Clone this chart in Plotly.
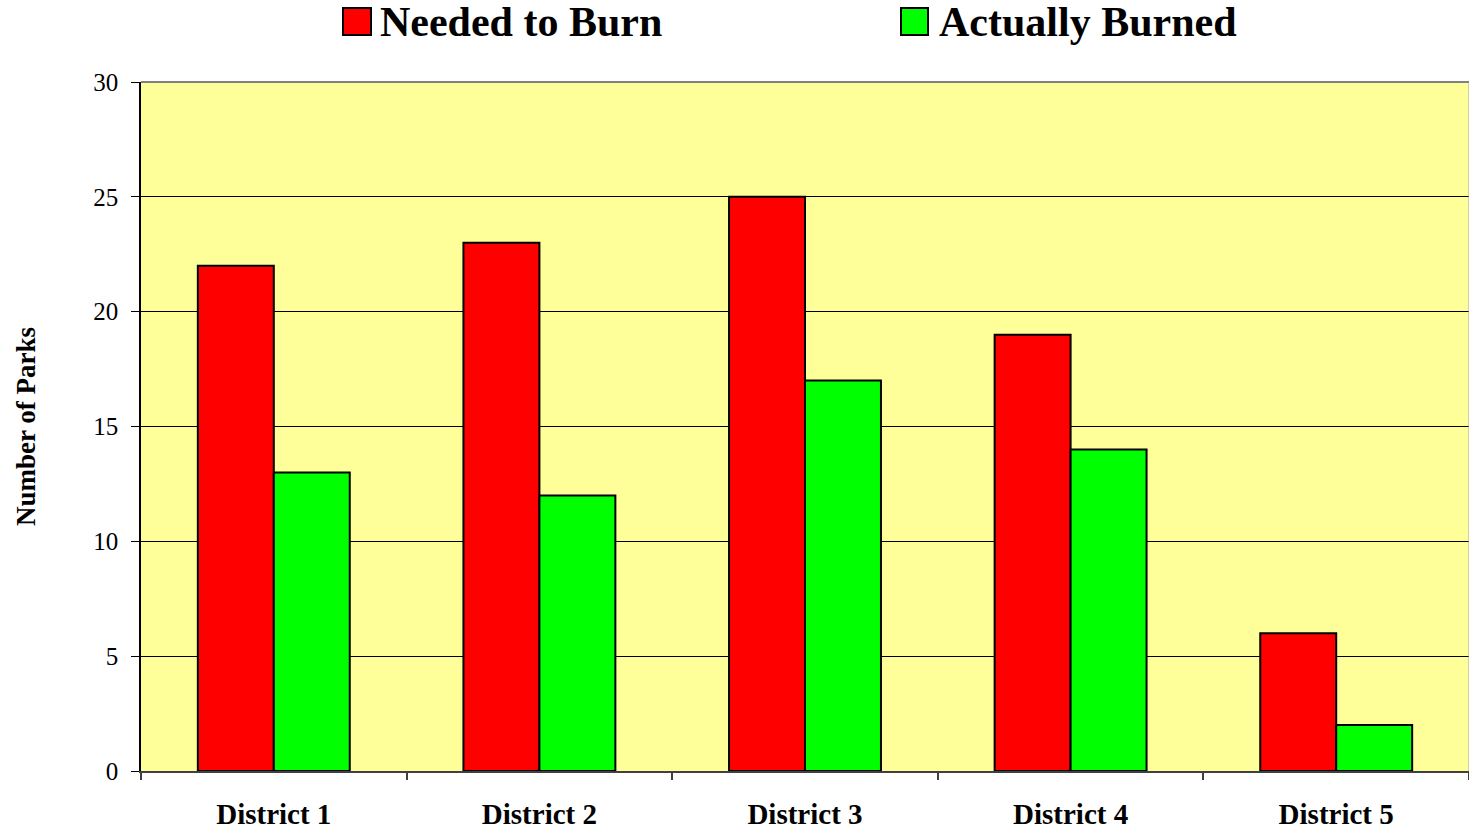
import plotly.graph_objects as go

districts = ["District 1", "District 2", "District 3", "District 4", "District 5"]
needed = [22, 23, 25, 19, 6]
burned = [13, 12, 17, 14, 2]
y_ticks = [0, 5, 10, 15, 20, 25, 30]

RED = "#FF0000"
GREEN = "#00FF00"
FONT = "Liberation Serif, Times New Roman, serif"

W, H = 1469, 833
L, R, T, B = 141, 0, 82, 62
PW, PH = W - L - R, H - T - B

fig = go.Figure()
fig.add_trace(go.Bar(x=districts, y=needed, name="Needed to Burn", marker=dict(color=RED, line=dict(color="black", width=2)), showlegend=False))
fig.add_trace(go.Bar(x=districts, y=burned, name="Actually Burned", marker=dict(color=GREEN, line=dict(color="black", width=2)), showlegend=False))
# legend text entries (swatches drawn as larger squares below)
for nm in ["Needed to Burn", "Actually Burned"]:
    fig.add_trace(go.Scatter(x=[None], y=[None], mode="markers", name=nm,
                             marker=dict(symbol="square", size=1, color="rgba(0,0,0,0)", line=dict(width=0))))

def px_x(p):
    return (p - L) / PW

def px_y(p):
    return (H - B - p) / PH

shapes = []
for (x0, x1), col in [((343, 371), RED), ((901, 928), GREEN)]:
    shapes.append(dict(type="rect", xref="paper", yref="paper",
                       x0=px_x(x0), x1=px_x(x1), y0=px_y(35), y1=px_y(8),
                       fillcolor=col, line=dict(color="black", width=2), layer="above"))
# gray top / right border of plot area
shapes.append(dict(type="line", xref="paper", yref="paper", x0=0, x1=1, y0=1, y1=1,
                   line=dict(color="#808080", width=2), layer="above"))
shapes.append(dict(type="line", xref="paper", yref="paper", x0=1, x1=1, y0=0, y1=1,
                   line=dict(color="#A0A0A0", width=1), layer="above"))

fig.update_layout(
    width=W, height=H,
    margin=dict(l=L, r=R, t=T, b=B, autoexpand=False),
    paper_bgcolor="white", plot_bgcolor="#FFFF99",
    barmode="group", bargap=0.428, bargroupgap=0,
    font=dict(family=FONT, color="black"),
    legend=dict(orientation="h", x=340 / W, xref="container", xanchor="left",
                y=1 - 20 / H, yref="container", yanchor="middle",
                font=dict(size=42, family=FONT, weight="bold"),
                entrywidth=514, bgcolor="rgba(0,0,0,0)", borderwidth=0),
    shapes=shapes,
)
fig.update_xaxes(
    automargin=False,
    showline=True, linecolor="#404040", linewidth=2,
    ticks="outside", tickson="boundaries", ticklen=7, tickcolor="#404040", tickwidth=1.5,
    tickfont=dict(size=29, family=FONT, weight="bold"),
    ticklabelstandoff=16,
    showgrid=False, mirror=False,
)
fig.update_yaxes(
    automargin=False,
    range=[0, 30], tickvals=y_ticks,
    showline=True, linecolor="black", linewidth=1.5,
    ticks="outside", ticklen=8, tickcolor="black",
    tickfont=dict(size=25, family=FONT),
    ticklabelstandoff=8,
    showgrid=True, gridcolor="black", gridwidth=1,
    zeroline=False,
    title=dict(text="Number of Parks", font=dict(size=27, family=FONT, weight="bold"), standoff=50),
)
fig.write_html("out.html", config={"displayModeBar": False},
               post_script="document.body.style.margin='0';document.body.style.overflow='hidden';")
